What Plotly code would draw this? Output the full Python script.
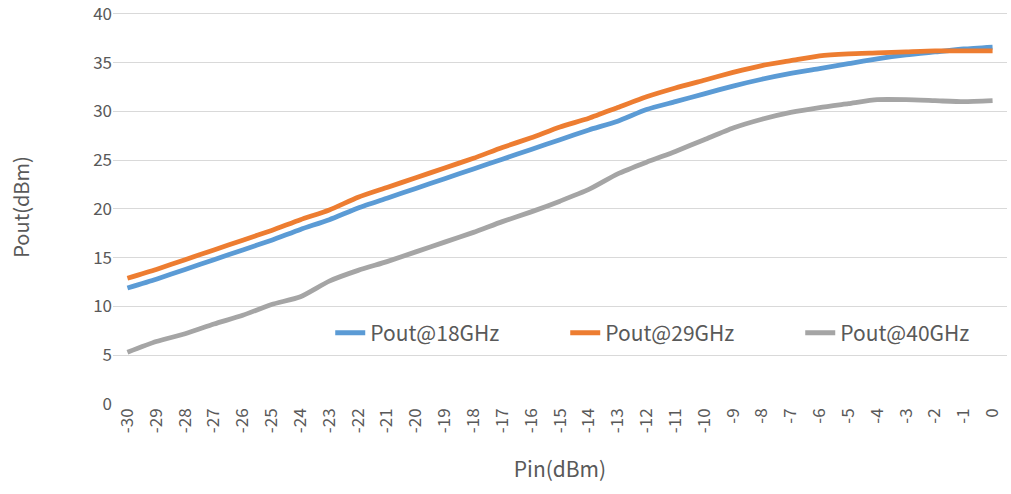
import plotly.graph_objects as go

pin = list(range(-30, 1))
pout_18 = [11.9, 12.8, 13.8, 14.8, 15.8, 16.8, 17.9, 18.9, 20.1, 21.1, 22.1, 23.1, 24.1, 25.1, 26.1,
           27.1, 28.1, 29.0, 30.2, 31.0, 31.8, 32.6, 33.3, 33.9, 34.4, 34.9, 35.4, 35.8, 36.1, 36.4, 36.6]
pout_29 = [12.9, 13.8, 14.8, 15.8, 16.8, 17.8, 18.9, 19.9, 21.2, 22.2, 23.2, 24.2, 25.2, 26.3, 27.3,
           28.4, 29.3, 30.4, 31.5, 32.4, 33.2, 34.0, 34.7, 35.2, 35.7, 35.9, 36.0, 36.1, 36.2, 36.2, 36.2]
pout_40 = [5.3, 6.4, 7.2, 8.2, 9.1, 10.2, 11.0, 12.6, 13.7, 14.6, 15.6, 16.6, 17.6, 18.7, 19.7,
           20.8, 22.0, 23.6, 24.8, 25.9, 27.1, 28.3, 29.2, 29.9, 30.4, 30.8, 31.2, 31.2, 31.1, 31.0, 31.1]
series_names = ["Pout@18GHz", "Pout@29GHz", "Pout@40GHz"]
colors = ["#5B9BD5", "#ED7D31", "#A5A5A5"]
y_ticks = [0, 5, 10, 15, 20, 25, 30, 35, 40]

font_family = "Noto Sans CJK SC, Noto Sans, sans-serif"
fig = go.Figure()
for name, vals, c in zip(series_names, [pout_18, pout_29, pout_40], colors):
    fig.add_trace(go.Scatter(x=pin, y=vals, name=name, mode="lines",
                             line=dict(color=c, width=4.8, shape="spline", smoothing=0.6)))

fig.update_layout(
    width=1011, height=494,
    margin=dict(l=113, r=4, t=10, b=90, autoexpand=False),
    paper_bgcolor="white", plot_bgcolor="white",
    font=dict(family=font_family, color="#595959"),
    showlegend=True,
    legend=dict(orientation="h", x=0.243, y=0.18, xanchor="left", yanchor="middle",
                font=dict(size=21, color="#595959"), bgcolor="rgba(0,0,0,0)",
                entrywidth=190, entrywidthmode="pixels", tracegroupgap=0),
    xaxis=dict(range=[-30.5, 0.5], tickmode="array", tickvals=pin,
               ticktext=[str(v) for v in pin], tickangle=-90,
               tickfont=dict(size=17, color="#595959"),
               showgrid=False, zeroline=False, showline=False, ticks="",
               title=dict(text="Pin(dBm)", font=dict(size=21, color="#595959"), standoff=30)),
    yaxis=dict(range=[0, 40.4], tickmode="array", tickvals=y_ticks,
               showgrid=True, gridcolor="#D9D9D9", gridwidth=1.2,
               zeroline=False, showline=False, ticks="",
               ticklabeloverflow="allow",
               tickfont=dict(size=17, color="#595959"),
               title=dict(text="Pout(dBm)", font=dict(size=20, color="#595959"), standoff=58)),
)
fig.write_html("out.html", config={"displayModeBar": False},
               post_script="document.body.style.margin='0';")
